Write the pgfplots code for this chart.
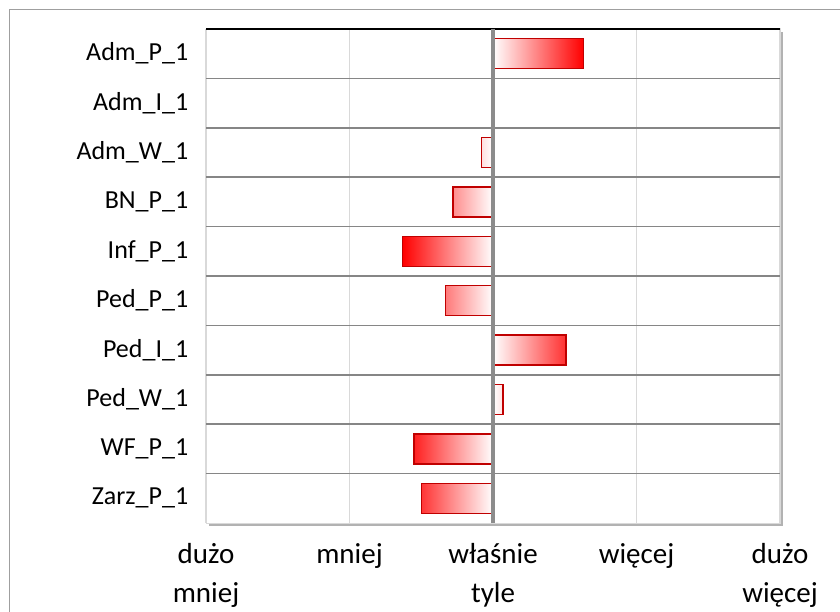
\documentclass[border=0pt]{standalone}
\usepackage{fontspec}
\setmainfont{Carlito}
\usepackage{pgfplots}
\pgfplotsset{compat=1.18}
\usetikzlibrary{shadows}

\definecolor{baredge}{HTML}{C00000}
\definecolor{barred}{HTML}{FF0000}
\definecolor{hgrid}{HTML}{868686}
\definecolor{vgrid}{HTML}{D9D9D9}
\definecolor{zeroline}{HTML}{8C8C8C}

% rows: 0 = Adm_P_1 ... 9 = Zarz_P_1 (Adm_I_1 = 0, no bar)
\begin{document}
\begin{tikzpicture}
\useasboundingbox (0,0) rectangle (840pt,612pt);
\draw[gray!75, line width=1.2pt] (9.5pt,-20pt) rectangle (900pt,602.5pt);
\begin{axis}[
    at={(206pt,89pt)}, anchor=south west,
    scale only axis, width=574pt, height=494pt,
    xbar, bar width=30pt, bar shift=0pt,
    xmin=-2, xmax=2, ymin=-0.5, ymax=9.5, y dir=reverse,
    axis line style={draw=none},
    axis background/.style={fill=white, draw=vgrid, line width=1pt,
        drop shadow={shadow xshift=3pt, shadow yshift=-3pt, fill=black, opacity=0.3}},
    xtick={-2,-1,0,1,2},
    xticklabels={{dużo\\mniej},{mniej},{właśnie\\tyle},{więcej},{dużo\\więcej}},
    xmajorgrids, major grid style={vgrid, line width=1.5pt},
    ytick={0,...,9},
    yticklabels={Adm\_P\_1,Adm\_I\_1,Adm\_W\_1,BN\_P\_1,Inf\_P\_1,Ped\_P\_1,Ped\_I\_1,Ped\_W\_1,WF\_P\_1,Zarz\_P\_1},
    minor ytick={0.5,1.5,...,8.5}, yminorgrids,
    minor grid style={hgrid, line width=1.5pt},
    extra y ticks={-0.5}, extra y tick labels={},
    extra y tick style={grid=major, major grid style={black, line width=2pt}},
    tick style={draw=none},
    yticklabel style={font=\fontsize{26}{30}\selectfont, xshift=-10pt},
    xticklabel style={font=\fontsize{29}{39}\selectfont, align=center, yshift=-17pt},
]
\addplot[draw=baredge, line width=1.4pt, left color=white, right color=barred]
    coordinates {(0.63,0) (0.51,6) (0.07,7)};
\addplot[draw=baredge, line width=1.4pt, left color=barred, right color=white]
    coordinates {(-0.08,2) (-0.28,3) (-0.63,4) (-0.33,5) (-0.55,8) (-0.50,9)};
% zero reference line over the bar ends
\addplot[sharp plot, zeroline, line width=3.5pt, forget plot]
    coordinates {(0,-0.5) (0,9.5)};
\end{axis}
\end{tikzpicture}
\end{document}
